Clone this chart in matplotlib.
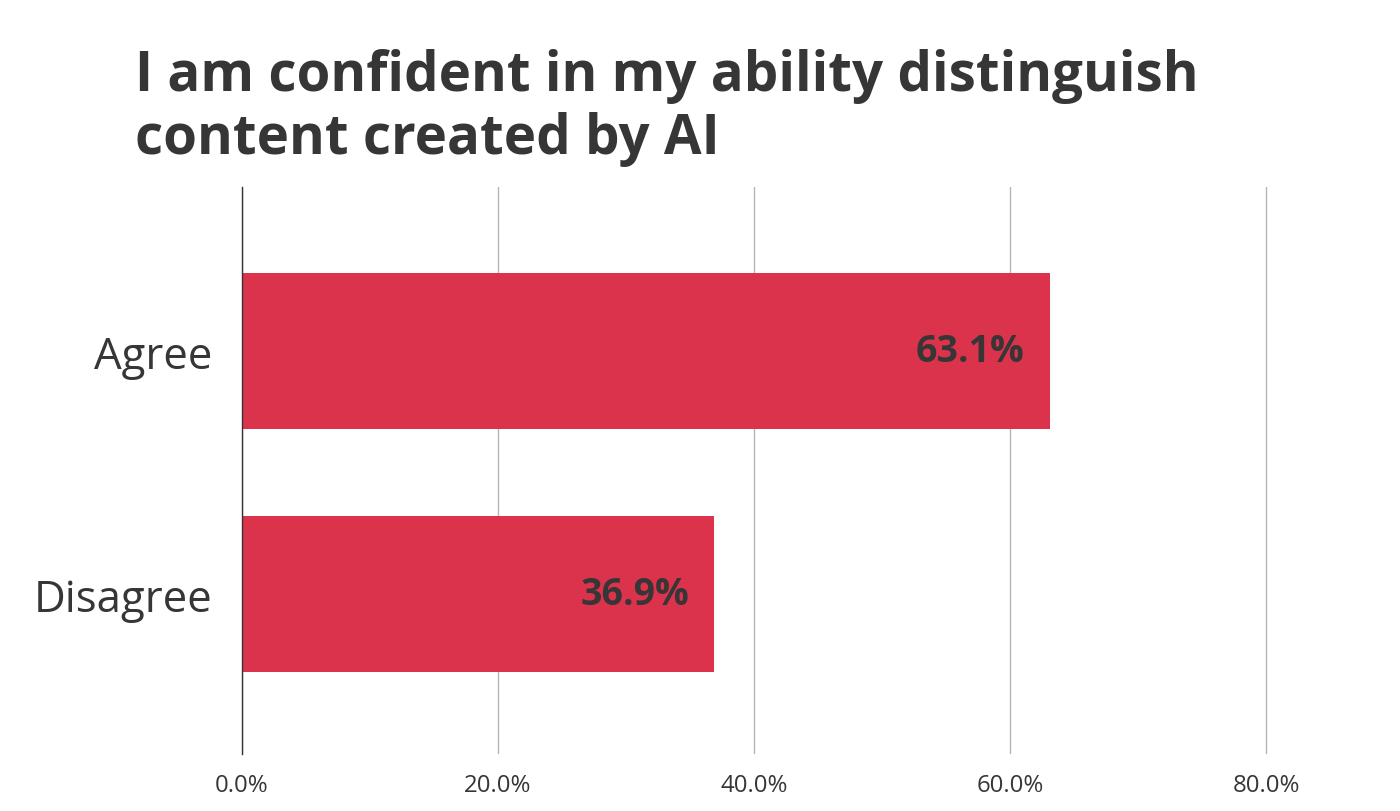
import matplotlib
matplotlib.use("Agg")
import matplotlib.pyplot as plt
from matplotlib.ticker import FuncFormatter

# data
categories = ["Agree", "Disagree"]
values = [63.1, 36.9]
xticks = [0, 20, 40, 60, 80]

title = "I am confident in my ability distinguish\ncontent created by AI"
bar_color = "#DC334D"
text_color = "#363636"

plt.rcParams['font.family'] = ['Open Sans', 'DejaVu Sans']

fig = plt.figure(figsize=(14, 8.12), dpi=100)
# x range runs a little past 80% so the last gridline isn't clipped
ax = fig.add_axes([242 / 1400, 1 - 755 / 812, (1292 - 242) / 1400, (755 - 188) / 812])

pos = list(range(len(categories)))
ax.barh(pos, values, height=0.642, color=bar_color, zorder=2)

for p, v in zip(pos, values):
    ax.text(v - 1.95, p, f"{v:.1f}%", ha="right", va="center",
            fontsize=27, fontweight="bold", color=text_color, zorder=3)

ax.set_xlim(0, 80 * 1050 / 1024)
ax.set_ylim(1.658, -0.675)
ax.set_xticks(xticks)
ax.xaxis.set_major_formatter(FuncFormatter(lambda x, _: f"{x:.1f}%"))
ax.set_yticks(pos)
ax.set_yticklabels(categories)

ax.grid(axis="x", color="#b5b5b5", linewidth=1.0, zorder=0)
for s in ["top", "right", "bottom"]:
    ax.spines[s].set_visible(False)
ax.spines["left"].set_color("#333333")
ax.spines["left"].set_linewidth(1.0)

ax.tick_params(axis="x", length=0, pad=14, labelsize=17.3, labelcolor=text_color)
ax.tick_params(axis="y", length=0, pad=21, labelsize=31.5, labelcolor=text_color)

fig.text(135 / 1400, 1 - 49 / 812, title, ha="left", va="top", fontsize=39.3,
         fontweight="bold", color=text_color, linespacing=1.2)

fig.savefig("out.png", dpi=100, facecolor="white")
